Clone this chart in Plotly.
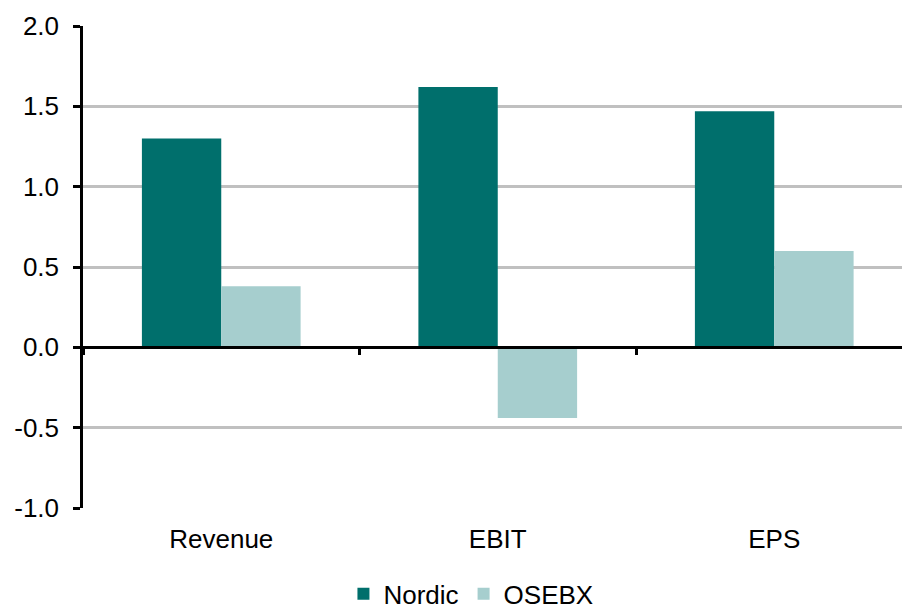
import plotly.graph_objects as go

categories = ["Revenue", "EBIT", "EPS"]
nordic = [1.30, 1.62, 1.47]
osebx = [0.38, -0.44, 0.60]
y_ticks = [-1.0, -0.5, 0.0, 0.5, 1.0, 1.5, 2.0]
y_ticklabels = [f"{v:.1f}" for v in y_ticks]

FONT = "Liberation Sans, Arial, sans-serif"
FS = 26
XR = [-0.5, 2.462]

fig = go.Figure()
fig.add_trace(go.Bar(x=categories, y=nordic, name="Nordic",
                     marker=dict(color="#006F6C", line=dict(width=0))))
fig.add_trace(go.Bar(x=categories, y=osebx, name="OSEBX",
                     marker=dict(color="#A6CECE", line=dict(width=0))))
# invisible helper trace so the zero-line axis gets its categories
fig.add_trace(go.Scatter(x=categories, y=[0] * len(categories), xaxis="x2",
                         mode="markers", marker=dict(opacity=0),
                         hoverinfo="skip", showlegend=False))

fig.update_layout(
    width=902, height=612,
    margin=dict(l=83, r=0, t=26, b=104, autoexpand=False),
    paper_bgcolor="white", plot_bgcolor="white",
    font=dict(family=FONT, size=FS, color="black"),
    barmode="group", bargap=0.426, bargroupgap=0,
    showlegend=True,
    legend=dict(orientation="h", x=0.318, xanchor="left", y=-0.178,
                yanchor="middle", font=dict(size=FS, family=FONT),
                bgcolor="rgba(0,0,0,0)", itemsizing="constant"),
    xaxis=dict(type="category", categoryarray=categories, range=XR,
               showline=False, showgrid=False, zeroline=False,
               ticks="outside", ticklen=8, tickcolor="rgba(0,0,0,0)",
               tickfont=dict(size=FS, family=FONT)),
    xaxis2=dict(type="category", categoryarray=categories, range=XR,
                overlaying="x", anchor="free", position=1/3,
                showline=True, linecolor="black", linewidth=3,
                ticks="outside", tickson="boundaries", ticklen=6,
                tickwidth=2.5, tickcolor="black",
                showticklabels=False, showgrid=False, zeroline=False,
                layer="above traces"),
    yaxis=dict(range=[-1, 2], tickvals=y_ticks, ticktext=y_ticklabels,
               showgrid=True, gridcolor="#C0C0C0", gridwidth=2.5,
               zeroline=False, showline=True, linecolor="black", linewidth=2.5,
               ticks="outside", ticklen=7, tickwidth=2.5, tickcolor="black",
               ticklabelstandoff=9,
               tickfont=dict(size=FS, family=FONT)),
)

fig.write_html("out.html")
